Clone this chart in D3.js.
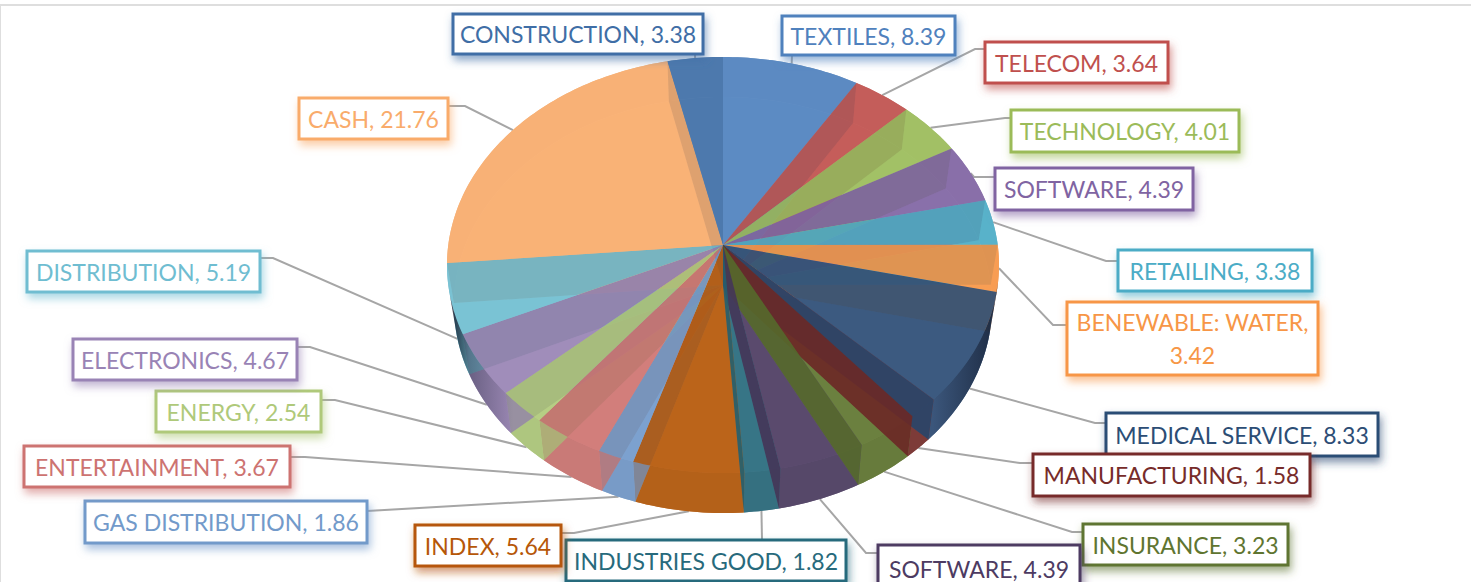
<!DOCTYPE html>
<html lang="en">
<head>
<meta charset="utf-8">
<title>Sector allocation</title>
<script src="https://d3js.org/d3.v7.min.js"></script>
<style>
  html, body { margin: 0; padding: 0; background: #fff; overflow: hidden; }
  text { font-family: Lato, "Open Sans", sans-serif; }
</style>
</head>
<body>
<div id="chart"></div>
<script>
// data
const categories = ["TEXTILES", "TELECOM", "TECHNOLOGY", "SOFTWARE", "RETAILING", "BENEWABLE: WATER",
  "MEDICAL SERVICE", "MANUFACTURING", "INSURANCE", "SOFTWARE", "INDUSTRIES GOOD", "INDEX",
  "GAS DISTRIBUTION", "ENTERTAINMENT", "ENERGY", "ELECTRONICS", "DISTRIBUTION", "CASH", "CONSTRUCTION"];
const values = [8.39, 3.64, 4.01, 4.39, 3.38, 3.42, 8.33, 1.58, 3.23, 4.39, 1.82, 5.64, 1.86, 3.67, 2.54, 4.67, 5.19, 21.76, 3.38];
const colors = ["#4f81bd", "#c0504d", "#9bbb59", "#8064a2", "#4bacc6", "#f79646",
  "#2c4d75", "#772c2a", "#5f7530", "#4d3b62", "#276a7c", "#b65708",
  "#729aca", "#cd7371", "#afc97a", "#9983b5", "#6fbdd1", "#f9ab6b", "#3f6ea6"];

// label placement, same order as categories: [x0, y0, x1, y1, elbowX, elbowY, startX, startY]
const labelBoxes = [
  [782, 16, 955, 55, 792, 55, 792, 55],
  [985, 42, 1168, 83, 975, 49, 985, 49],
  [1011, 110, 1239, 152, 1005, 118, 1011, 118],
  [995, 168, 1193, 210, 974, 177, 995, 177],
  [1118, 250, 1312, 291, 1106, 261, 1118, 261],
  [1067, 302, 1318, 375, 1053, 325, 1067, 325],
  [1106, 413, 1378, 456, 1095, 423, 1106, 423],
  [1033, 454, 1310, 496, 1020, 463, 1033, 463],
  [1083, 524, 1288, 565, 1072, 532, 1083, 532],
  [878, 545, 1080, 592, 866, 553, 878, 553],
  [566, 540, 846, 581, 762, 540, 762, 540],
  [415, 525, 561, 566, 574, 533, 561, 533],
  [85, 501, 367, 543, 367, 511, 367, 511],
  [24, 446, 290, 487, 305, 457, 290, 457],
  [156, 391, 321, 432, 335, 400, 321, 400],
  [73, 339, 297, 380, 310, 347, 297, 347],
  [27, 251, 260, 292, 273, 258, 260, 258],
  [299, 98, 448, 139, 465, 106, 448, 106],
  [453, 14, 703, 54, 695, 54, 695, 54]
];

const width = 1471, height = 582;
const cx = 723, cy = 265, rx = 276, ry = 208;
const depth = 40, floorShrink = 0.975;
// how far the apex sits above the middle of the ellipse (perspective)
const skew = -20 / ry;

const svg = d3.select("#chart").append("svg")
  .attr("width", width).attr("height", height)
  .style("display", "block");

const defs = svg.append("defs");

const xScale = d3.scaleLinear().domain([-1, 1]).range([cx - rx, cx + rx]);
const yScale = d3.scaleLinear().domain([-1, 1]).range([cy - ry, cy + ry]);

// angle + radius on the flat disc -> screen, floor = 1 for the lower face
function project(angle, r, floor) {
  const u = r * Math.sin(angle), v = -r * Math.cos(angle);
  const w = 1 + skew * v;
  let X = xScale(u * Math.sqrt(1 - skew * skew) / w);
  let Y = yScale((v + skew) / w);
  if (floor) {
    X = cx + (X - cx) * floorShrink;
    Y += depth;
  }
  return [X, Y];
}

function arcPoints(a0, a1, floor) {
  const n = Math.max(2, Math.ceil((a1 - a0) / 0.02));
  return d3.range(n + 1).map(i => project(a0 + (a1 - a0) * i / n, 1, floor));
}

const line = d3.line();

function wedge(d, floor) {
  return line([project(0, 0, floor)].concat(arcPoints(d.startAngle, d.endAngle, floor))) + "Z";
}
function radialWall(angle) {
  return line([project(angle, 0, 0), project(angle, 1, 0), project(angle, 1, 1), project(angle, 0, 1)]) + "Z";
}
function sideWall(a0, a1) {
  return line(arcPoints(a0, a1, 0).concat(arcPoints(a0, a1, 1).reverse())) + "Z";
}
// the glass washes every colour out a little
const washed = c => d3.interpolateRgb(c, "#fff")(0.07);

const pie = d3.pie().sort(null).startAngle(0).endAngle(2 * Math.PI);
const slices = pie(values);

// frame of the original chart area
svg.append("line").attr("x1", 0).attr("x2", width).attr("y1", 5).attr("y2", 5)
  .attr("stroke", "#dedede").attr("stroke-width", 2);
svg.append("line").attr("x1", 0.5).attr("x2", 0.5).attr("y1", 5).attr("y2", height)
  .attr("stroke", "#dedede").attr("stroke-width", 1);

// leader lines, under the pie
const leaders = svg.append("g").attr("fill", "none").attr("stroke", "#a6a6a6").attr("stroke-width", 2);
slices.forEach((d, i) => {
  const mid = (d.startAngle + d.endAngle) / 2;
  const front = -Math.cos(mid) > 0.15;
  const b = labelBoxes[i];
  leaders.append("path").attr("d", line([[b[6], b[7]], [b[4], b[5]], project(mid, 1, front ? 1 : 0)]));
});

const pieG = svg.append("g");

// lower face and outer wall, seen through the glassy top
slices.forEach((d, i) => {
  pieG.append("path").attr("d", wedge(d, 1)).attr("fill", washed(colors[i])).attr("fill-opacity", 0.92);
  pieG.append("path").attr("d", sideWall(d.startAngle, d.endAngle))
    .attr("fill", d3.color(washed(colors[i])).darker(0.12)).attr("fill-opacity", 0.92);
});

// top face
slices.forEach((d, i) => {
  pieG.append("path").attr("d", wedge(d, 0))
    .attr("fill", washed(colors[i])).attr("fill-opacity", 0.92);
});

// radial walls that fall inside their own slice, kept from spilling into the neighbours
slices.forEach((d, i) => {
  const clip = defs.append("clipPath").attr("id", "own" + i);
  clip.append("path").attr("d", wedge(d, 0));
  clip.append("path").attr("d", sideWall(d.startAngle, d.endAngle));
  const dark = d3.color(colors[i]).darker(1);
  if (d.startAngle < 1.85) {
    pieG.append("path").attr("d", radialWall(d.startAngle)).attr("fill", dark).attr("fill-opacity", 0.22)
      .attr("clip-path", `url(#own${i})`);
  }
  if (d.endAngle > Math.PI) {
    pieG.append("path").attr("d", radialWall(d.endAngle)).attr("fill", dark).attr("fill-opacity", 0.22)
      .attr("clip-path", `url(#own${i})`);
  }
});

// end walls of the lower right quarter sit in front of the next slice
slices.forEach((d, i) => {
  if (d.endAngle > Math.PI / 2 + 0.3 && d.endAngle < Math.PI) {
    pieG.append("path").attr("d", radialWall(d.endAngle))
      .attr("fill", d3.color(colors[i]).darker(0.3)).attr("fill-opacity", 0.9);
  }
});

// side wall goes dark towards both edges
const edgeShade = defs.append("linearGradient").attr("id", "edgeShade")
  .attr("gradientUnits", "userSpaceOnUse")
  .attr("x1", cx - rx).attr("x2", cx + rx).attr("y1", 0).attr("y2", 0);
[[0.005, 0.9], [0.04, 0.35], [0.12, 0], [0.88, 0], [0.99, 0.65]].forEach(s => {
  edgeShade.append("stop").attr("offset", s[0]).attr("stop-color", "#10182a").attr("stop-opacity", s[1]);
});
pieG.append("path").attr("d", sideWall(1.75, 4.5)).attr("fill", "url(#edgeShade)");

// labels
colors.forEach((c, i) => {
  const f = defs.append("filter").attr("id", "glow" + i)
    .attr("x", "-10%").attr("y", "-30%").attr("width", "125%").attr("height", "170%");
  f.append("feDropShadow").attr("dx", 2).attr("dy", 5).attr("stdDeviation", 4)
    .attr("flood-color", c).attr("flood-opacity", 0.6);
});

const labelG = svg.selectAll("g.label").data(slices).join("g").attr("class", "label");

labelG.append("rect")
  .attr("x", (d, i) => labelBoxes[i][0])
  .attr("y", (d, i) => labelBoxes[i][1])
  .attr("width", (d, i) => labelBoxes[i][2] - labelBoxes[i][0])
  .attr("height", (d, i) => labelBoxes[i][3] - labelBoxes[i][1])
  .attr("fill", "#fff")
  .attr("stroke", (d, i) => colors[i])
  .attr("stroke-width", 3)
  .attr("filter", (d, i) => `url(#glow${i})`);

labelG.each(function(d, i) {
  const b = labelBoxes[i];
  const full = `${categories[i]}, ${values[i].toFixed(2)}`;
  const lines = b[3] - b[1] > 60 ? [categories[i] + ",", values[i].toFixed(2)] : [full];
  const midY = (Math.min(b[3], b[1] + 73) + b[1]) / 2;
  d3.select(this).selectAll("text").data(lines).join("text")
    .attr("x", (b[0] + b[2]) / 2)
    .attr("y", (t, k) => midY + 9 + (k - (lines.length - 1) / 2) * 33)
    .attr("text-anchor", "middle")
    .attr("font-size", 23)
    .attr("fill", colors[i])
    .text(t => t);
});
</script>
</body>
</html>
